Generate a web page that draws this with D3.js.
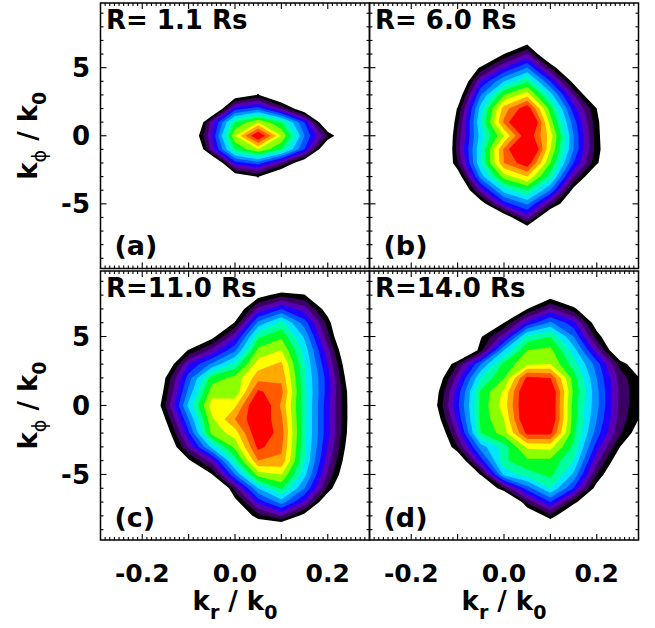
<!DOCTYPE html>
<html><head><meta charset="utf-8">
<script src="https://cdn.jsdelivr.net/npm/d3@7"></script>
<style>body{margin:0;background:#fff}svg{display:block}</style>
</head><body>
<svg id="chart" width="655" height="628"></svg>
<script>
// grid coordinates (kr/k0 columns, kphi/k0 rows from top to bottom)
const krValues = [-0.3,-0.25,-0.2,-0.15,-0.1,-0.05,0,0.05,0.1,0.15,0.2,0.25,0.3];
const kphiValues = [9,8,7,6,5,4,3,2,1,0,-1,-2,-3,-4,-5,-6,-7,-8,-9];
const panelTitles = ["R= 1.1 Rs","R= 6.0 Rs","R=11.0 Rs","R=14.0 Rs"];
const panelLetters = ["(a)","(b)","(c)","(d)"];
const levelThresholds = [1,2,3,4,5,6,7,8,9,10,11,12,13,14];
const levelColors = ["#000000","#3c0064","#5a00b4","#1e00ff","#0050ff","#0096ff","#00e6ff",
                     "#00ffa0","#00ff28","#8cff00","#ffff00","#ffaa00","#ff5a00","#ff0000"];
const xTickValues = [-0.2,0,0.2];
const xTickLabels = ["-0.2","0.0","0.2"];
const yTickValues = [5,0,-5];
const yTickLabels = ["5","0","-5"];

// contour level values (rows kphi = 9 .. -9)
const gridA = [
[0,0,0,0,0,0,0,0,0,0,0,0,0],
[0,0,0,0,0,0,0,0,0,0,0,0,0],
[0,0,0,0,0,0,0,0,0,0,0,0,0],
[0,0,0,0,0,0,0,0,0,0,0,0,0],
[0,0,0,0,0,0,0,0,0,0,0,0,0],
[0,0,0,0,0,0,0,0,0,0,0,0,0],
[0,0,0,0,0,0,-0.1,1.1,-1.2,0,0,0,0],
[0,0,0,0,0,-2.1,4.5,5.5,2.8,-0.5,0,0,0],
[0,0,0,0,-3.3,3.5,9,11,9,5,-1.35,0,0],
[0,0,0,0,-1.4,4,11,15.3,11,6,2,-1.5,0],
[0,0,0,0,-3.3,3.5,9,11,9,5,-1.35,0,0],
[0,0,0,0,0,-2.1,4.5,5.5,2.8,-0.5,0,0,0],
[0,0,0,0,0,0,-0.1,1.1,-1.2,0,0,0,0],
[0,0,0,0,0,0,0,0,0,0,0,0,0],
[0,0,0,0,0,0,0,0,0,0,0,0,0],
[0,0,0,0,0,0,0,0,0,0,0,0,0],
[0,0,0,0,0,0,0,0,0,0,0,0,0],
[0,0,0,0,0,0,0,0,0,0,0,0,0],
[0,0,0,0,0,0,0,0,0,0,0,0,0]];

const gridB = [
[0,0,0,0,0,0,0,0,0,0,0,0,0],
[0,0,0,0,0,0,0,0,0,0,0,0,0],
[0,0,0,0,0,0,-1,0.1,-1,0,0,0,0],
[0,0,0,0,0,-1.5,1.0,3.1,-1.5,0,0,0,0],
[0,0,0,0,-1,1.2,4,6,2,-2,0,0,0],
[0,0,0,0,-1.6,4,7,8.9,5,0.5,0,0,0],
[0,0,0,0,-0.2,6,10,11.6,7.5,3,-1.5,0,0],
[0,0,0,-2,1.1,7.5,12.5,14.8,9.5,4.5,1.0,-1,0],
[0,0,0,-4,1.8,8,13.2,17,10.5,5.5,1.3,-1.5,0],
[0,0,0,-4,2.3,7.5,11,15,11.5,6,1.4,-1.5,0],
[0,0,0,-4,2.5,8,13.2,17,11,6,1.5,-1.5,0],
[0,0,0,-3,2,8,13,14.8,10,5,1.2,-1.5,0],
[0,0,0,0,-0.1,6.5,10.5,12,8.5,3,-1,0,0],
[0,0,0,0,-1.8,3.5,7.5,9,6,0.5,0,0,0],
[0,0,0,0,0,0.1,4.5,6.2,2.5,-1,0,0,0],
[0,0,0,0,0,-1,-0.3,3.4,-1.4,0,0,0,0],
[0,0,0,0,0,0,-1,-0.5,-1,0,0,0,0],
[0,0,0,0,0,0,0,0,0,0,0,0,0],
[0,0,0,0,0,0,0,0,0,0,0,0,0]];

const gridC = [
[0,0,0,0,0,0,0,-1,-1.8,-1,0,0,0],
[0,0,0,0,0,0,-1.5,0.4,1.7,1.1,-1.5,0,0],
[0,0,0,0,0,-1.5,-0.5,3.3,5,3.5,0.2,-2,0],
[0,0,0,0,0,-1.5,1.1,6.3,8.3,5.5,1.6,-3,0],
[0,0,0,0,-1.5,0.5,3.7,8.8,9.8,6.8,2.3,-2.3,0],
[0,0,0,-1,1.1,3.3,5.8,10.3,11,7.6,3.3,-1.4,0],
[0,0,0,-0.7,4,6.2,8.3,11.5,12.2,8,4,-0.7,0],
[0,0,-1,1,5.5,9.5,10.3,12.6,12.8,8.2,4.5,-0.2,0],
[0,0,-3.5,1.5,6.3,10.5,10.2,14.2,13.3,8.3,4.5,0.3,0],
[0,0,-2.7,2,7.3,11.5,11.8,15.5,12.8,8.3,4.3,0.4,0],
[0,0,-1,1,6,10.8,13,15,13.2,8.3,4.3,0.4,0],
[0,0,0,-0.1,4.8,10.3,11.5,15,13.5,8.3,4.3,0.3,0],
[0,0,0,-1,3.2,7.3,10.3,14.3,13.2,8.2,4,0,0],
[0,0,0,0,0.75,3.5,8.5,13,12.8,8,3.5,-0.4,0],
[0,0,0,0,-1.5,0.9,6,10.5,11,7.3,2.8,-0.9,0],
[0,0,0,0,0,-3.3,2.5,7,9.2,6,1.8,-2.2,0],
[0,0,0,0,0,-1.5,0.36,4.3,6.5,3.8,-0.6,0,0],
[0,0,0,0,0,0,-0.8,1.6,3,0.4,-1,0,0],
[0,0,0,0,0,0,0,-1,-1.5,-1,0,0,0]];

const gridD = [
[0,0,0,0,0,0,0,0,0,0,0,0,0],
[0,0,0,0,0,0,0,-1.5,0.2,-1.5,0,0,0],
[0,0,0,0,0,0,-1.5,1.0,3.2,1.4,-1.5,0,0],
[0,0,0,0,0,-1.5,1.0,4.3,6.2,4.4,0.1,-1.5,0],
[0,0,0,0,-1.5,0.85,3.5,8.3,9,6,1.6,-1.5,0],
[0,0,0,0,-2.5,1.6,7,10,10.3,7.5,3.5,-1,0],
[0,0,0,-1.8,2,6,9.3,10.8,11,8.5,5.5,1.7,-0.6],
[0,0,0,-0.5,3.5,8,10,14.3,14,9.5,6,2.6,0.7],
[0,0,0,0.2,4.5,9.2,11.2,15.5,15.3,9.8,6.3,2.8,0.9],
[0,0,0,0.5,4.8,9.3,11.5,15.5,15.3,9.5,6.3,2.7,0.9],
[0,0,0,-0.2,4.3,9.3,11,15.5,15.3,9.5,6,2.6,0.6],
[0,0,0,-1.2,3.3,9,10.5,14.3,14.3,9.3,5.5,2.2,-0.2],
[0,0,0,-1.8,2,6.5,8.5,11.2,11.3,8.8,4.5,1.0,-1],
[0,0,0,0,-0.8,4.5,8.8,9.8,9.8,8,3.3,-0.2,0],
[0,0,0,0,-1.5,1.1,7.3,8.5,9.3,6.8,2,-1.4,0],
[0,0,0,0,0,-1.5,2,5.5,8,5,0.35,0,0],
[0,0,0,0,0,0,-3,2.2,5,1.4,-1,0,0],
[0,0,0,0,0,0,0,-0.8,1.7,-1,0,0,0],
[0,0,0,0,0,0,0,0,-1.5,0,0,0,0]];

const FONT = "DejaVu Sans, Verdana, sans-serif";
const svg = d3.select("#chart");
const xDomain = [-0.29, 0.29], yDomain = [-9.75, 9.75];
const nx = krValues.length, ny = kphiValues.length;
const dkr = krValues[1] - krValues[0], dkphi = kphiValues[0] - kphiValues[1];

const panels = [
  {grid: gridA, x0: 100.5, y0: 3,   w: 269, h: 265.5, left: true,  bottom: false},
  {grid: gridB, x0: 369.5, y0: 3,   w: 269, h: 265.5, left: false, bottom: false},
  {grid: gridC, x0: 100.5, y0: 271, w: 269, h: 269,   left: true,  bottom: true},
  {grid: gridD, x0: 369.5, y0: 271, w: 269, h: 269,   left: false, bottom: true}
];

const defs = svg.append("defs");
const minorX = d3.range(-29, 30).map(i => i / 100);
const minorY = d3.range(-9, 10);

panels.forEach((p, i) => {
  const xs = d3.scaleLinear().domain(xDomain).range([p.x0, p.x0 + p.w]);
  const ys = d3.scaleLinear().domain(yDomain).range([p.y0 + p.h, p.y0]);
  defs.append("clipPath").attr("id", "clip" + i).append("rect")
    .attr("x", p.x0).attr("y", p.y0).attr("width", p.w).attr("height", p.h);

  const values = p.grid.flat();
  const contours = d3.contours().size([nx, ny]).thresholds(levelThresholds)(values);
  const proj = d3.geoTransform({
    point(gx, gy) {
      const kr = krValues[0] + (gx - 0.5) * dkr;
      const kp = kphiValues[0] - (gy - 0.5) * dkphi;
      this.stream.point(xs(kr), ys(kp));
    }
  });
  const path = d3.geoPath(proj);
  svg.append("g").attr("clip-path", `url(#clip${i})`)
    .selectAll("path").data(contours).join("path")
    .attr("d", path).attr("fill", (d, k) => levelColors[k]).attr("stroke", "none");

  const tg = svg.append("g").attr("stroke", "#000").attr("stroke-width", 1.1);
  minorX.forEach(v => {
    const major = Math.abs(Math.round(v * 100) % 10) === 0;
    const len = major ? 6 : 3;
    const x = xs(v);
    tg.append("line").attr("x1", x).attr("x2", x).attr("y1", p.y0 + p.h).attr("y2", p.y0 + p.h - len);
    tg.append("line").attr("x1", x).attr("x2", x).attr("y1", p.y0).attr("y2", p.y0 + len);
  });
  minorY.forEach(v => {
    const major = v % 5 === 0;
    const len = major ? 6 : 3;
    const y = ys(v);
    tg.append("line").attr("x1", p.x0).attr("x2", p.x0 + len).attr("y1", y).attr("y2", y);
    tg.append("line").attr("x1", p.x0 + p.w).attr("x2", p.x0 + p.w - len).attr("y1", y).attr("y2", y);
  });
  svg.append("rect").attr("x", p.x0).attr("y", p.y0).attr("width", p.w).attr("height", p.h)
    .attr("fill", "none").attr("stroke", "#000").attr("stroke-width", 1.5);

  svg.append("text").attr("x", p.x0 + 5.5).attr("y", p.y0 + 26)
    .attr("font-family", FONT).attr("font-weight", "bold").attr("font-size", 26)
    .text(panelTitles[i]);
  svg.append("text").attr("x", p.x0 + 14).attr("y", p.y0 + p.h - 13.5)
    .attr("font-family", FONT).attr("font-weight", "bold").attr("font-size", 27)
    .text(panelLetters[i]);

  if (p.left) {
    yTickValues.forEach((v, k) => {
      svg.append("text").attr("x", 90).attr("y", ys(v) + 9.5)
        .attr("text-anchor", "end").attr("font-family", FONT).attr("font-weight", "bold")
        .attr("font-size", 26).text(yTickLabels[k]);
    });
    const t = svg.append("text")
      .attr("transform", `translate(37,${p.y0 + p.h / 2}) rotate(-90)`)
      .attr("text-anchor", "middle").attr("font-family", FONT).attr("font-weight", "bold")
      .attr("font-size", 26);
    t.append("tspan").text("k");
    t.append("tspan").attr("dy", 9).attr("font-size", 19).attr("font-weight", "normal").text("\u03D5");
    t.append("tspan").attr("dy", -9).text(" / k");
    t.append("tspan").attr("dy", 9).attr("font-size", 19).text("0");
  }
  if (p.bottom) {
    xTickValues.forEach((v, k) => {
      svg.append("text").attr("x", xs(v)).attr("y", 582)
        .attr("text-anchor", "middle").attr("font-family", FONT).attr("font-weight", "bold")
        .attr("font-size", 25).text(xTickLabels[k]);
    });
    const t = svg.append("text").attr("x", xs(0)).attr("y", 610)
      .attr("text-anchor", "middle").attr("font-family", FONT).attr("font-weight", "bold")
      .attr("font-size", 26);
    t.append("tspan").text("k");
    t.append("tspan").attr("dy", 9).attr("font-size", 19).text("r");
    t.append("tspan").attr("dy", -9).text(" / k");
    t.append("tspan").attr("dy", 9).attr("font-size", 19).text("0");
  }
});
</script>
</body></html>
